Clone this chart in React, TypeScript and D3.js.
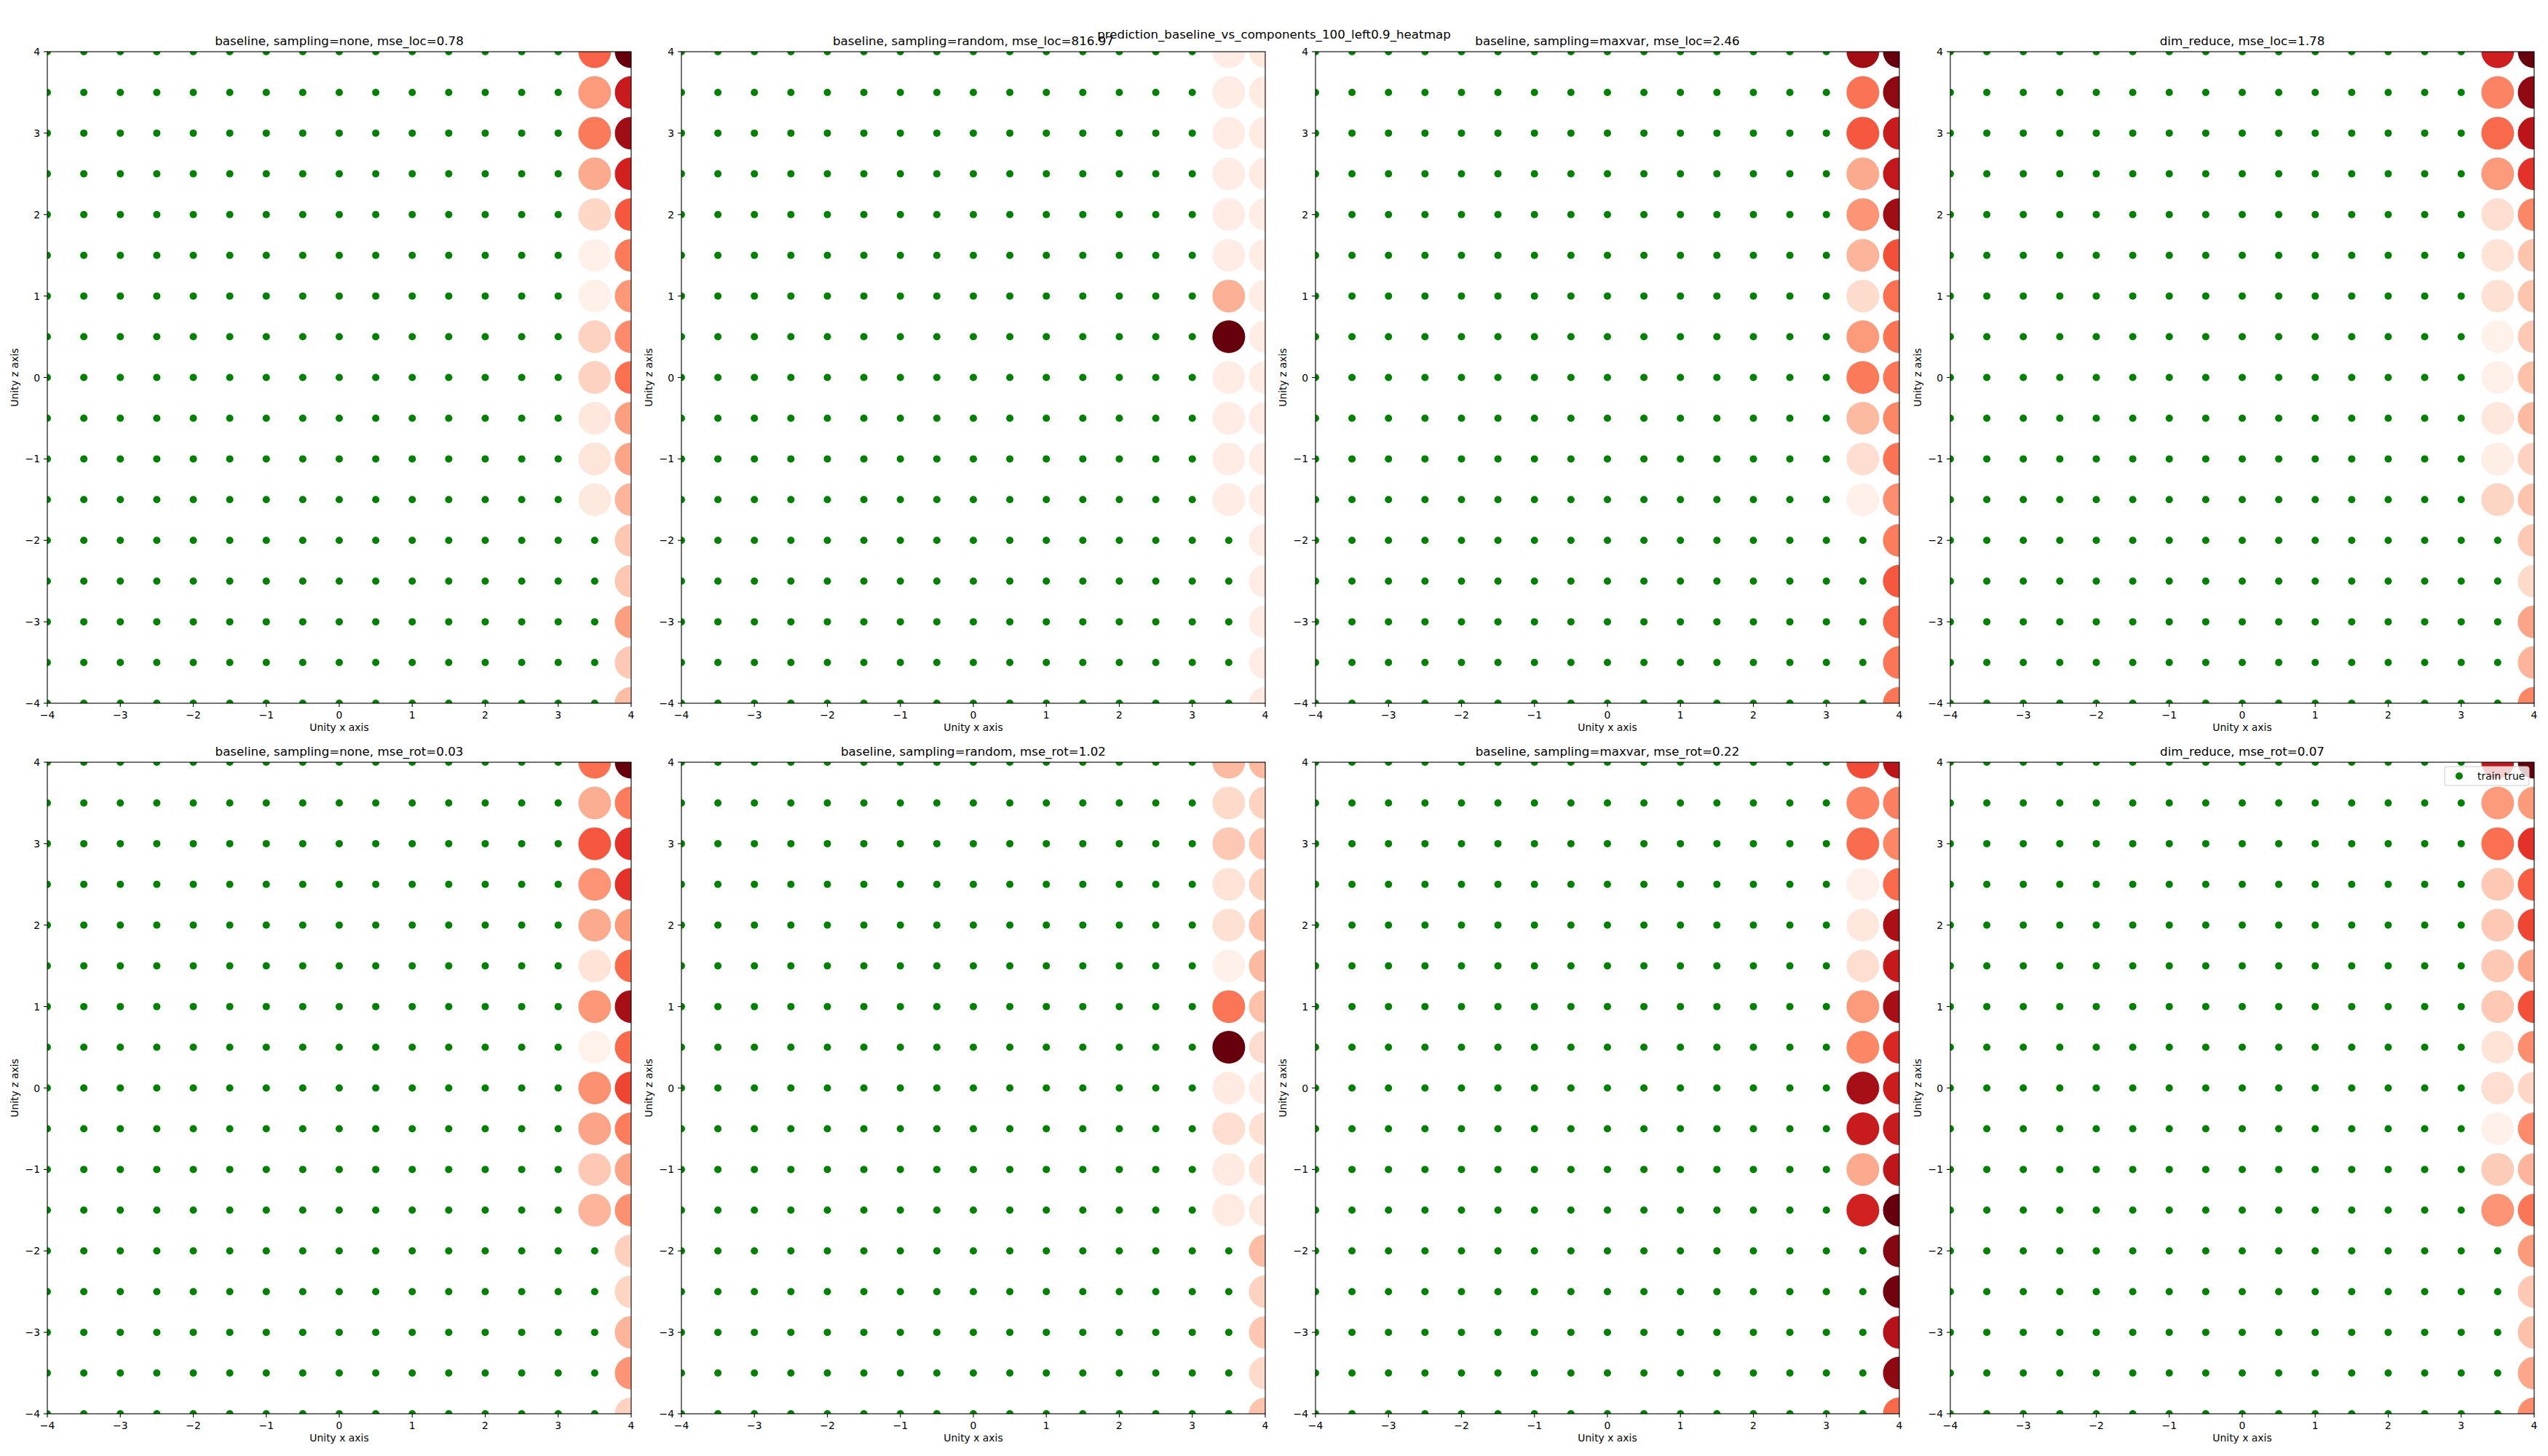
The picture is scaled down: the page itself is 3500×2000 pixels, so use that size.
import * as d3 from "d3";

// rows of the grid, top to bottom
const zRows = [4, 3.5, 3, 2.5, 2, 1.5, 1, 0.5, 0, -0.5, -1, -1.5, -2, -2.5, -3, -3.5, -4];
const trainX = [-4, -3.5, -3, -2.5, -2, -1.5, -1, -0.5, 0, 0.5, 1, 1.5, 2, 2.5, 3];
const trainLowZ = [-2, -2.5, -3, -3.5, -4]; // rows where x=3.5 is still training
const ticks = [-4, -3, -2, -1, 0, 1, 2, 3, 4];

const titles = [
  "baseline, sampling=none, mse_loc=0.78",
  "baseline, sampling=random, mse_loc=816.97",
  "baseline, sampling=maxvar, mse_loc=2.46",
  "dim_reduce, mse_loc=1.78",
  "baseline, sampling=none, mse_rot=0.03",
  "baseline, sampling=random, mse_rot=1.02",
  "baseline, sampling=maxvar, mse_rot=0.22",
  "dim_reduce, mse_rot=0.07",
];

// heat values (0..1) for the test column at x=3.5 (z = 4 .. -1.5)
const locNone35 = [0.52, 0.35, 0.45, 0.3, 0.15, 0.03, 0.03, 0.17, 0.17, 0.08, 0.09, 0.07];
const locRandom35 = [0.05, 0.05, 0.05, 0.05, 0.05, 0.05, 0.28, 1.0, 0.05, 0.05, 0.05, 0.05];
const locMaxvar35 = [0.87, 0.47, 0.55, 0.3, 0.37, 0.27, 0.13, 0.35, 0.45, 0.25, 0.12, 0.03];
const locDim35 = [0.74, 0.42, 0.5, 0.35, 0.12, 0.1, 0.11, 0.02, 0.03, 0.08, 0.04, 0.16];
const rotNone35 = [0.48, 0.29, 0.55, 0.37, 0.3, 0.1, 0.36, 0.02, 0.38, 0.32, 0.2, 0.27];
const rotRandom35 = [0.25, 0.14, 0.2, 0.1, 0.11, 0.03, 0.46, 1.0, 0.06, 0.12, 0.06, 0.06];
const rotMaxvar35 = [0.58, 0.42, 0.49, 0.03, 0.08, 0.12, 0.35, 0.41, 0.86, 0.76, 0.3, 0.73];
const rotDim35 = [0.78, 0.35, 0.48, 0.2, 0.2, 0.2, 0.2, 0.1, 0.12, 0.03, 0.19, 0.37];

// heat values for the test column at x=4 (z = 4 .. -4)
const locNone40 = [1.0, 0.76, 0.88, 0.73, 0.55, 0.45, 0.36, 0.4, 0.48, 0.34, 0.32, 0.27, 0.21, 0.21, 0.34, 0.2, 0.24];
const locRandom40 = [0.07, 0.06, 0.06, 0.06, 0.05, 0.05, 0.05, 0.05, 0.05, 0.05, 0.05, 0.05, 0.05, 0.05, 0.05, 0.05, 0.06];
const locMaxvar40 = [1.0, 0.92, 0.76, 0.78, 0.88, 0.57, 0.48, 0.47, 0.46, 0.41, 0.47, 0.39, 0.44, 0.55, 0.5, 0.46, 0.46];
const locDim40 = [1.0, 0.92, 0.8, 0.66, 0.41, 0.22, 0.22, 0.2, 0.23, 0.25, 0.17, 0.22, 0.2, 0.14, 0.32, 0.27, 0.41];
const rotNone40 = [1.0, 0.44, 0.66, 0.66, 0.35, 0.5, 0.86, 0.5, 0.6, 0.44, 0.32, 0.38, 0.18, 0.16, 0.27, 0.37, 0.17];
const rotRandom40 = [0.25, 0.17, 0.2, 0.17, 0.22, 0.25, 0.23, 0.13, 0.06, 0.11, 0.1, 0.08, 0.24, 0.17, 0.21, 0.14, 0.22];
const rotMaxvar40 = [0.8, 0.43, 0.41, 0.5, 0.85, 0.77, 0.86, 0.7, 0.75, 0.76, 0.79, 1.0, 0.94, 0.98, 0.82, 0.92, 0.5];
const rotDim40 = [1.0, 0.35, 0.66, 0.53, 0.6, 0.31, 0.57, 0.39, 0.15, 0.4, 0.27, 0.46, 0.35, 0.2, 0.23, 0.31, 0.39];

const near = [locNone35, locRandom35, locMaxvar35, locDim35, rotNone35, rotRandom35, rotMaxvar35, rotDim35];
const edge = [locNone40, locRandom40, locMaxvar40, locDim40, rotNone40, rotRandom40, rotMaxvar40, rotDim40];

const W = 3500;
const H = 2000;
const axW = 802;
const axH = 895;
const lefts = [65, 936, 1807, 2679];
const tops = [71, 1047];
const font = "DejaVu Sans";

const heat = d3.scaleSequential(d3.interpolateReds).domain([0, 1]);

function Panel({ idx }: { idx: number }) {
  const x = d3.scaleLinear().domain([-4, 4]).range([0, axW]);
  const y = d3.scaleLinear().domain([-4, 4]).range([axH, 0]);
  const left = lefts[idx % 4];
  const top = tops[Math.floor(idx / 4)];
  const clipId = `clip-${idx}`;

  const train: [number, number][] = [];
  zRows.forEach((z) => trainX.forEach((tx) => train.push([tx, z])));
  trainLowZ.forEach((z) => train.push([3.5, z]));

  return (
    <g transform={`translate(${left},${top})`}>
      <clipPath id={clipId}>
        <rect x={0} y={0} width={axW} height={axH} />
      </clipPath>
      <g clipPath={`url(#${clipId})`}>
        {train.map(([tx, z], i) => (
          <circle key={"t" + i} cx={x(tx)} cy={y(z)} r={5} fill="#008000" />
        ))}
        {near[idx].map((v, i) => (
          <circle key={"n" + i} cx={x(3.5)} cy={y(zRows[i])} r={22.5} fill={heat(v)} />
        ))}
        {edge[idx].map((v, i) => (
          <circle key={"e" + i} cx={x(4)} cy={y(zRows[i])} r={22.5} fill={heat(v)} />
        ))}
      </g>
      <rect x={0} y={0} width={axW} height={axH} fill="none" stroke="#000" strokeWidth={1.1} />
      {ticks.map((t) => (
        <g key={"xt" + t}>
          <line x1={x(t)} x2={x(t)} y1={axH} y2={axH + 4.9} stroke="#000" strokeWidth={1.1} />
          <text x={x(t)} y={axH + 21} textAnchor="middle" fontSize={13.9} fontFamily={font}>
            {t < 0 ? "\u2212" + Math.abs(t) : t}
          </text>
        </g>
      ))}
      {ticks.map((t) => (
        <g key={"yt" + t}>
          <line x1={-4.9} x2={0} y1={y(t)} y2={y(t)} stroke="#000" strokeWidth={1.1} />
          <text x={-10} y={y(t) + 5} textAnchor="end" fontSize={13.9} fontFamily={font}>
            {t < 0 ? "\u2212" + Math.abs(t) : t}
          </text>
        </g>
      ))}
      <text x={axW / 2} y={axH + 38} textAnchor="middle" fontSize={13.9} fontFamily={font}>
        Unity x axis
      </text>
      <text
        transform={`translate(-40,${axH / 2}) rotate(-90)`}
        textAnchor="middle"
        fontSize={13.9}
        fontFamily={font}
      >
        Unity z axis
      </text>
      <text x={axW / 2} y={-9} textAnchor="middle" fontSize={16.7} fontFamily={font}>
        {titles[idx]}
      </text>
      {idx === 7 && (
        <g>
          <rect x={axW - 123} y={6} width={116} height={26} rx={3} fill="#fff" fillOpacity={0.8} stroke="#cccccc" strokeWidth={1} />
          <circle cx={axW - 103} cy={19} r={5} fill="#008000" />
          <text x={axW - 78} y={24} fontSize={13.9} fontFamily={font}>
            train true
          </text>
        </g>
      )}
    </g>
  );
}

export default function App() {
  return (
    <svg width={W} height={H} style={{ position: "absolute", left: 0, top: 0, background: "#fff" }}>
      <rect width={W} height={H} fill="#fff" />
      {titles.map((_, i) => (
        <Panel key={i} idx={i} />
      ))}
      <text x={W / 2} y={53} textAnchor="middle" fontSize={16.7} fontFamily={font}>
        prediction_baseline_vs_components_100_left0.9_heatmap
      </text>
    </svg>
  );
}
